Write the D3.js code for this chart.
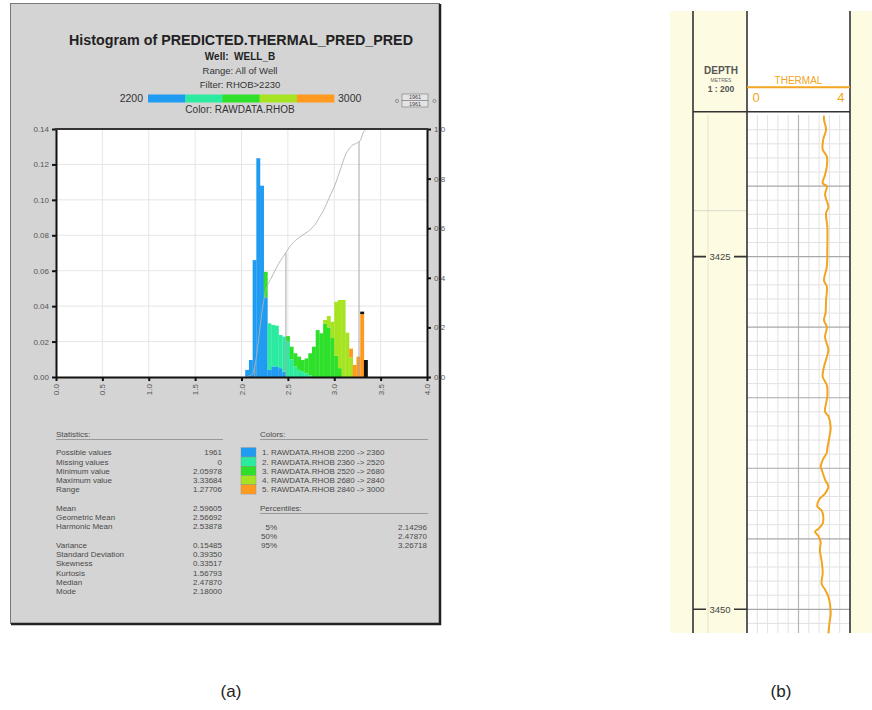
<!DOCTYPE html>
<html>
<head>
<meta charset="utf-8">
<script src="https://cdn.jsdelivr.net/npm/d3@7"></script>
<style>
  body { margin: 0; background: #fff; }
  svg { font-family: "Liberation Sans", Arial, sans-serif; }
</style>
</head>
<body>
<svg id="fig" width="872" height="710"></svg>
<script>
// ---- panel (a) data: histogram of PREDICTED.THERMAL_PRED_PRED ----
// bins are 0.04 wide starting at 2.04, each bar stacked by RHOB colour class
const binStart = 2.04;
const binWidth = 0.04;
const classKeys = ["c1", "c2", "c3", "c4", "c5", "c6"];
const classColors = ["#1f9bf2", "#2ceba0", "#2fe02a", "#a6e422", "#ff9a1e", "#111111"];
const classLabels = [
  "1. RAWDATA.RHOB 2200 -> 2360",
  "2. RAWDATA.RHOB 2360 -> 2520",
  "3. RAWDATA.RHOB 2520 -> 2680",
  "4. RAWDATA.RHOB 2680 -> 2840",
  "5. RAWDATA.RHOB 2840 -> 3000"
];
const c1 = [0.004, 0.0096, 0.066, 0.1235, 0.108, 0.045, 0.004, 0.006, 0.006, 0.005, 0.003, 0, 0, 0, 0, 0, 0, 0, 0, 0, 0, 0, 0, 0, 0, 0, 0, 0, 0, 0, 0, 0, 0];
const c2 = [0, 0, 0, 0, 0, 0, 0.0263, 0.0234, 0.023, 0.0187, 0.0198, 0.020, 0.010, 0.006, 0.004, 0.003, 0.002, 0.001, 0, 0, 0, 0, 0, 0, 0, 0, 0, 0, 0, 0, 0, 0, 0];
const c3 = [0, 0, 0, 0, 0, 0.0144, 0, 0, 0, 0, 0, 0.0031, 0.0071, 0.0074, 0.0075, 0.0066, 0.0085, 0.0124, 0.0171, 0.0265, 0.0247, 0.030, 0.028, 0.022, 0.012, 0.005, 0, 0, 0, 0, 0, 0, 0];
const c4 = [0, 0, 0, 0, 0, 0, 0, 0, 0, 0, 0, 0, 0, 0, 0, 0, 0, 0, 0, 0, 0, 0.0022, 0.0064, 0.0092, 0.0305, 0.0385, 0.0435, 0.025, 0.011, 0, 0, 0, 0];
const c5 = [0, 0, 0, 0, 0, 0, 0, 0, 0, 0, 0, 0, 0, 0, 0, 0, 0, 0, 0, 0, 0, 0, 0, 0, 0, 0, 0, 0, 0.005, 0.0068, 0.0115, 0.0355, 0];
const c6 = [0, 0, 0, 0, 0, 0, 0, 0, 0, 0, 0, 0, 0, 0, 0, 0, 0, 0, 0, 0, 0, 0, 0, 0, 0, 0, 0, 0, 0, 0, 0, 0.0014, 0.0096];

const yTicks = [0, 0.02, 0.04, 0.06, 0.08, 0.10, 0.12, 0.14];
const xTicks = [0, 0.5, 1.0, 1.5, 2.0, 2.5, 3.0, 3.5, 4.0];
const cdfTicks = [0, 0.2, 0.4, 0.6, 0.8, 1.0];

const statLabels = ["Possible values", "Missing values", "Minimum value", "Maximum value", "Range", "",
  "Mean", "Geometric Mean", "Harmonic Mean", "",
  "Variance", "Standard Deviation", "Skewness", "Kurtosis", "Median", "Mode"];
const statValues = ["1961", "0", "2.05978", "3.33684", "1.27706", "",
  "2.59605", "2.56692", "2.53878", "",
  "0.15485", "0.39350", "0.33517", "1.56793", "2.47870", "2.18000"];
const pctLabels = ["5%", "50%", "95%"];
const pctValues = [2.14296, 2.47870, 3.26718];

// ---- panel (b) data: THERMAL log against depth ----
const depthTicks = [3425, 3450];
const logDepth = [3415.0, 3415.3, 3416.0, 3416.7, 3417.4, 3417.9, 3418.6, 3419.2, 3419.8, 3420.0, 3420.6,
  3421.5, 3421.9, 3422.9, 3424.3, 3425.7, 3426.7, 3427.1, 3428.1, 3429.0, 3429.5, 3430.0, 3430.7,
  3431.6, 3432.3, 3432.8, 3433.5, 3434.1, 3434.9, 3435.4, 3436.0, 3436.3, 3437.1, 3437.8, 3438.6,
  3438.9, 3439.4, 3439.9, 3440.1, 3440.8, 3441.3, 3441.8, 3442.2, 3442.7, 3443.0, 3443.4, 3443.9,
  3444.3, 3444.5, 3444.8, 3445.2, 3445.8, 3446.6, 3447.4, 3448.2, 3448.6, 3449.1, 3449.6, 3450.3,
  3451.0, 3451.7];
const thermal = [2.99, 2.99, 3.07, 2.96, 2.94, 3.10, 3.10, 3.03, 2.94, 3.10, 3.03,
  3.16, 3.07, 3.12, 3.12, 3.10, 2.99, 3.10, 3.07, 3.05, 2.99, 3.10, 3.03,
  3.16, 3.07, 2.99, 2.94, 3.10, 3.12, 3.07, 3.03, 3.16, 3.25, 3.20, 3.12,
  3.10, 2.94, 2.86, 2.90, 3.03, 3.16, 3.03, 2.81, 2.73, 2.90, 2.96, 2.94,
  2.77, 2.64, 2.77, 2.86, 2.83, 2.90, 2.94, 2.90, 3.03, 3.16, 3.22, 3.25,
  3.20, 3.16];

const svg = d3.select("#fig");
const FONT_GRAY = "#4a4a4a";

// ================= panel (a) =================
svg.append("rect").attr("x", 10.5).attr("y", 3.5).attr("width", 429).attr("height", 620)
  .attr("fill", "#d4d4d4").attr("stroke", "#777").attr("stroke-width", 1);
svg.append("path").attr("d", "M440,4 V624 H11").attr("fill", "none")
  .attr("stroke", "#222").attr("stroke-width", 2.5);

const head = svg.append("g").attr("text-anchor", "middle").attr("fill", "#222");
head.append("text").attr("x", 241).attr("y", 45).attr("font-size", 14.3).attr("font-weight", "bold")
  .text("Histogram of PREDICTED.THERMAL_PRED_PRED");
head.append("text").attr("x", 240).attr("y", 60).attr("font-size", 10).attr("font-weight", "bold")
  .attr("xml:space", "preserve").text("Well:  WELL_B");
head.append("text").attr("x", 240).attr("y", 74).attr("font-size", 9.5).attr("fill", "#333").text("Range: All of Well");
head.append("text").attr("x", 240).attr("y", 88).attr("font-size", 9.5).attr("fill", "#333").text("Filter: RHOB>2230");
head.append("text").attr("x", 240).attr("y", 113).attr("font-size", 10).attr("fill", "#333").text("Color: RAWDATA.RHOB");

// colour bar 2200 -> 3000
const cbar = d3.scaleBand().domain(classLabels).range([148, 334]);
svg.append("g").selectAll("rect").data(classLabels).join("rect")
  .attr("x", d => cbar(d)).attr("y", 94.5).attr("width", cbar.bandwidth() + 0.3).attr("height", 8)
  .attr("fill", (d, i) => classColors[i]);
svg.append("text").attr("x", 143).attr("y", 102).attr("text-anchor", "end").attr("font-size", 10.5)
  .attr("fill", "#333").text("2200");
svg.append("text").attr("x", 338).attr("y", 102).attr("font-size", 10.5).attr("fill", "#333").text("3000");

// little count boxes on the right
const cnt = svg.append("g").attr("font-size", 5.5).attr("fill", "#444").attr("text-anchor", "middle");
[94, 100.5].forEach(y0 => {
  cnt.append("rect").attr("x", 402).attr("y", y0).attr("width", 26).attr("height", 6.5)
    .attr("fill", "#e4e4e4").attr("stroke", "#777").attr("stroke-width", 0.6);
  cnt.append("text").attr("x", 415).attr("y", y0 + 5).text(statValues[0]);
});
cnt.append("circle").attr("cx", 397).attr("cy", 101).attr("r", 1.6).attr("fill", "none").attr("stroke", "#666").attr("stroke-width", 0.6);
cnt.append("circle").attr("cx", 434.5).attr("cy", 101).attr("r", 1.6).attr("fill", "none").attr("stroke", "#666").attr("stroke-width", 0.6);

// plot area
const x = d3.scaleLinear().domain([0, 4]).range([56, 427]);
const y = d3.scaleLinear().domain([0, 0.14]).range([377, 129]);
const yR = d3.scaleLinear().domain([0, 1]).range([377, 129]);

svg.append("rect").attr("x", 56).attr("y", 129).attr("width", 371).attr("height", 248).attr("fill", "#fff");
const grid = svg.append("g").attr("stroke", "#e6e6e6").attr("stroke-width", 1);
grid.selectAll(".h").data(yTicks.slice(1, -1)).join("line").attr("class", "h")
  .attr("x1", 56).attr("x2", 427).attr("y1", d => y(d)).attr("y2", d => y(d));
grid.selectAll(".v").data(xTicks.slice(1, -1)).join("line").attr("class", "v")
  .attr("y1", 129).attr("y2", 377).attr("x1", d => x(d)).attr("x2", d => x(d));

// stacked histogram
const bins = c1.map((v, i) => ({ x0: binStart + i * binWidth, c1: c1[i], c2: c2[i], c3: c3[i], c4: c4[i], c5: c5[i], c6: c6[i] }));
const stacked = d3.stack().keys(classKeys)(bins);
svg.append("g").selectAll("g").data(stacked).join("g")
  .attr("fill", (d, i) => classColors[i])
  .selectAll("rect").data(d => d.filter(s => s[1] - s[0] > 0)).join("rect")
  .attr("x", d => x(d.data.x0)).attr("width", x(binWidth) - x(0) + 0.2)
  .attr("y", d => y(d[1])).attr("height", d => y(d[0]) - y(d[1]));

// cumulative curve from the bins
const totals = bins.map(b => classKeys.reduce((s, k) => s + b[k], 0));
const grand = d3.sum(totals);
const cum = Array.from(d3.cumsum(totals), v => v / grand);
const cdfPts = [[binStart, 0]].concat(cum.map((v, i) => [binStart + (i + 1) * binWidth, v]));
svg.append("defs").append("clipPath").attr("id", "plotclip")
  .append("rect").attr("x", 56).attr("y", 129).attr("width", 371).attr("height", 248);
svg.append("path").datum(cdfPts).attr("clip-path", "url(#plotclip)")
  .attr("fill", "none").attr("stroke", "#b2b2b2").attr("stroke-width", 0.9)
  .attr("d", d3.line().x(d => x(d[0])).y(d => yR(d[1])).curve(d3.curveMonotoneX));

// percentile drop lines
svg.append("g").selectAll("line").data(pctValues).join("line")
  .attr("x1", d => x(d)).attr("x2", d => x(d))
  .attr("y1", (d, i) => yR(parseFloat(pctLabels[i]) / 100)).attr("y2", 377)
  .attr("stroke", "#a8a8a8").attr("stroke-width", 1);

// axes
function styleAxis(g) {
  g.select(".domain").attr("stroke", "#111").attr("stroke-width", 2);
  g.selectAll(".tick line").attr("stroke", "#111").attr("stroke-width", 2);
  g.selectAll(".tick text").attr("fill", "#555").attr("font-size", 8)
    .attr("font-family", "Liberation Sans, Arial, sans-serif");
}
svg.append("g").attr("transform", "translate(56,0)")
  .call(d3.axisLeft(y).tickValues(yTicks).tickFormat(d3.format(".2f")).tickSize(4).tickSizeOuter(0).tickPadding(3))
  .call(styleAxis);
svg.append("g").attr("transform", "translate(427,0)")
  .call(d3.axisRight(yR).tickValues(cdfTicks).tickFormat(d3.format(".1f")).tickSize(4).tickSizeOuter(0).tickPadding(3))
  .call(styleAxis);
svg.append("g").attr("transform", "translate(0,377)")
  .call(d3.axisBottom(x).tickValues(xTicks).tickFormat(d3.format(".1f")).tickSize(4).tickSizeOuter(0))
  .call(styleAxis)
  .call(g => g.selectAll(".tick text").attr("transform", "rotate(-90)").attr("text-anchor", "end")
    .attr("x", -7).attr("y", 0).attr("dy", "0.32em"));
svg.append("line").attr("x1", 55).attr("x2", 428).attr("y1", 129).attr("y2", 129)
  .attr("stroke", "#333").attr("stroke-width", 2);

// statistics block
const stats = svg.append("g").attr("font-size", 8).attr("fill", FONT_GRAY);
stats.append("text").attr("x", 56).attr("y", 437).text("Statistics:");
stats.append("line").attr("x1", 56).attr("x2", 223).attr("y1", 439.5).attr("y2", 439.5).attr("stroke", "#999");
stats.selectAll(".sl").data(statLabels).join("text").attr("class", "sl")
  .attr("x", 56).attr("y", (d, i) => 455.3 + i * 9.25).text(d => d);
stats.selectAll(".sv").data(statValues).join("text").attr("class", "sv")
  .attr("x", 222).attr("text-anchor", "end").attr("y", (d, i) => 455.3 + i * 9.25).text(d => d);

// colours legend
const leg = svg.append("g").attr("font-size", 8).attr("fill", FONT_GRAY);
leg.append("text").attr("x", 260).attr("y", 437).text("Colors:");
leg.append("line").attr("x1", 260).attr("x2", 428).attr("y1", 439.5).attr("y2", 439.5).attr("stroke", "#999");
leg.selectAll("rect").data(classLabels).join("rect")
  .attr("x", 241).attr("y", (d, i) => 447.7 + i * 9.27).attr("width", 15).attr("height", 9.27)
  .attr("fill", (d, i) => classColors[i]).attr("stroke", "#8a8a8a").attr("stroke-width", 0.4);
leg.selectAll(".ll").data(classLabels).join("text").attr("class", "ll")
  .attr("x", 262).attr("y", (d, i) => 455.3 + i * 9.27).text(d => d);
leg.append("text").attr("x", 260).attr("y", 511).text("Percentiles:");
leg.append("line").attr("x1", 260).attr("x2", 428).attr("y1", 513.5).attr("y2", 513.5).attr("stroke", "#999");
leg.selectAll(".pl").data(pctLabels).join("text").attr("class", "pl")
  .attr("x", 277).attr("text-anchor", "end").attr("y", (d, i) => 529.7 + i * 9.25).text(d => d);
leg.selectAll(".pv").data(pctValues).join("text").attr("class", "pv")
  .attr("x", 427).attr("text-anchor", "end").attr("y", (d, i) => 529.7 + i * 9.25).text(d => d.toFixed(5));

// ================= panel (b) =================
const xT = d3.scaleLinear().domain([0, 4]).range([747, 850]);
const yD = d3.scaleLinear().domain([3415, 3451.7]).range([115.6, 633.3]);
const ORANGE = "#f2a521";

svg.append("rect").attr("x", 670).attr("y", 11).attr("width", 202).attr("height", 622).attr("fill", "#fdfbe1");
svg.append("rect").attr("x", 747).attr("y", 11).attr("width", 103).attr("height", 622).attr("fill", "#fff");

// track grid
const tg = svg.append("g");
tg.selectAll(".mh").data(d3.range(3416, 3452, 1).filter(d => d % 5 !== 0)).join("line").attr("class", "mh")
  .attr("x1", 747).attr("x2", 850).attr("y1", d => yD(d)).attr("y2", d => yD(d))
  .attr("stroke", "#e2e2e2").attr("stroke-width", 1);
tg.selectAll(".mv").data(d3.range(0.4, 4, 0.4).filter(d => Math.abs(d - 2) > 0.01)).join("line").attr("class", "mv")
  .attr("y1", 115).attr("y2", 633).attr("x1", d => xT(d)).attr("x2", d => xT(d))
  .attr("stroke", "#e2e2e2").attr("stroke-width", 1);
tg.append("line").attr("x1", xT(2)).attr("x2", xT(2)).attr("y1", 115).attr("y2", 633)
  .attr("stroke", "#b4b4b4").attr("stroke-width", 1.2);
tg.selectAll(".Mh").data(d3.range(3420, 3452, 5)).join("line").attr("class", "Mh")
  .attr("x1", 747).attr("x2", 850).attr("y1", d => yD(d)).attr("y2", d => yD(d))
  .attr("stroke", "#a8a8a8").attr("stroke-width", 1.2);

// faint guide lines in the depth column
svg.append("line").attr("x1", 708).attr("x2", 708).attr("y1", 115).attr("y2", 633).attr("stroke", "#e6e3c8");
svg.append("line").attr("x1", 693).attr("x2", 747).attr("y1", 210.7).attr("y2", 210.7).attr("stroke", "#d8d8d0");

// thermal curve
svg.append("path").datum(logDepth.map((d, i) => [thermal[i], d]))
  .attr("fill", "none").attr("stroke", ORANGE).attr("stroke-width", 2)
  .attr("d", d3.line().x(d => xT(d[0])).y(d => yD(d[1])).curve(d3.curveCatmullRom));

// depth labels
const dl = svg.append("g");
dl.selectAll("text").data(depthTicks).join("text")
  .attr("x", 720).attr("y", d => yD(d) + 3.3).attr("text-anchor", "middle")
  .attr("font-size", 9.5).attr("fill", "#444").text(d => d);
dl.selectAll(".tl").data(depthTicks).join("path").attr("class", "tl")
  .attr("d", d => `M693,${yD(d)}H706M734,${yD(d)}H747`).attr("stroke", "#333").attr("stroke-width", 1.6);

// column borders
svg.append("g").attr("stroke", "#333").attr("stroke-width", 1.6)
  .selectAll("line").data([693, 747, 850]).join("line")
  .attr("x1", d => d).attr("x2", d => d).attr("y1", 11).attr("y2", 633);
svg.append("line").attr("x1", 693).attr("x2", 850).attr("y1", 111.7).attr("y2", 111.7)
  .attr("stroke", "#333").attr("stroke-width", 1.6);

// header
const hd = svg.append("g").attr("text-anchor", "middle");
hd.append("text").attr("x", 721).attr("y", 74).attr("font-size", 10).attr("font-weight", "bold").attr("fill", "#555").text("DEPTH");
hd.append("text").attr("x", 721).attr("y", 81.5).attr("font-size", 5).attr("fill", "#666").text("METRES");
hd.append("text").attr("x", 721).attr("y", 92).attr("font-size", 8.5).attr("font-weight", "bold").attr("fill", "#555").text("1 : 200");
hd.append("text").attr("x", 798.5).attr("y", 83.5).attr("font-size", 10).attr("fill", ORANGE).text("THERMAL");
svg.append("line").attr("x1", 747).attr("x2", 850).attr("y1", 87.3).attr("y2", 87.3).attr("stroke", ORANGE).attr("stroke-width", 2);
svg.append("text").attr("x", 752.5).attr("y", 102).attr("font-size", 13).attr("fill", ORANGE).text(xT.domain()[0]);
svg.append("text").attr("x", 844.5).attr("y", 102).attr("text-anchor", "end").attr("font-size", 13).attr("fill", ORANGE).text(xT.domain()[1]);

// panel captions
svg.append("text").attr("x", 231).attr("y", 697).attr("text-anchor", "middle").attr("font-size", 17).attr("fill", "#222").text("(a)");
svg.append("text").attr("x", 781).attr("y", 697).attr("text-anchor", "middle").attr("font-size", 17).attr("fill", "#222").text("(b)");
</script>
</body>
</html>
